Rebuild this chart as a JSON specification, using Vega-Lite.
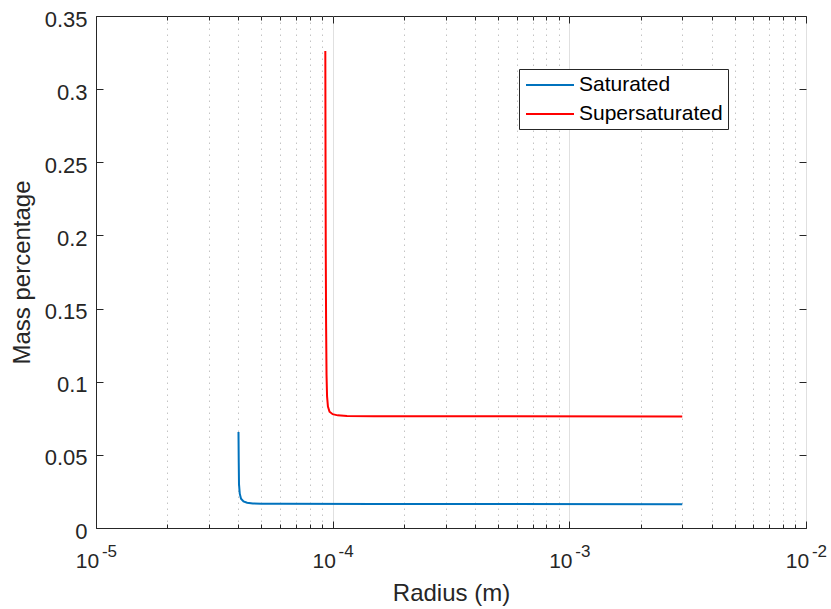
{
  "$schema": "https://vega.github.io/schema/vega-lite/v6.json",
  "width": 710,
  "height": 512,
  "autosize": {"type": "none"},
  "padding": {"left": 96, "top": 16, "right": 25, "bottom": 81},
  "background": "white",
  "config": {
    "font": "Liberation Sans",
    "view": {"stroke": "#262626", "strokeWidth": 1},
    "axis": {
      "labelFont": "Liberation Sans",
      "titleFont": "Liberation Sans",
      "labelColor": "#262626",
      "titleColor": "#262626",
      "titleFontWeight": "normal",
      "domainColor": "#262626",
      "tickColor": "#262626",
      "labelFlush": false,
      "labelOverlap": false
    }
  },
  "datasets": {
    "curves": [
      {"series": "Saturated", "r": 4.0e-5, "m": 0.0656},
      {"series": "Saturated", "r": 4.01e-5, "m": 0.045},
      {"series": "Saturated", "r": 4.02e-5, "m": 0.030},
      {"series": "Saturated", "r": 4.05e-5, "m": 0.0235},
      {"series": "Saturated", "r": 4.10e-5, "m": 0.0200},
      {"series": "Saturated", "r": 4.2e-5, "m": 0.0182},
      {"series": "Saturated", "r": 4.35e-5, "m": 0.0173},
      {"series": "Saturated", "r": 4.6e-5, "m": 0.0168},
      {"series": "Saturated", "r": 5.0e-5, "m": 0.0166},
      {"series": "Saturated", "r": 6.0e-5, "m": 0.0165},
      {"series": "Saturated", "r": 1.5e-4, "m": 0.0164},
      {"series": "Saturated", "r": 3.0e-3, "m": 0.0163},
      {"series": "Supersaturated", "r": 9.31e-5, "m": 0.326},
      {"series": "Supersaturated", "r": 9.33e-5, "m": 0.25},
      {"series": "Supersaturated", "r": 9.35e-5, "m": 0.19},
      {"series": "Supersaturated", "r": 9.38e-5, "m": 0.14},
      {"series": "Supersaturated", "r": 9.42e-5, "m": 0.105},
      {"series": "Supersaturated", "r": 9.47e-5, "m": 0.090},
      {"series": "Supersaturated", "r": 9.55e-5, "m": 0.083},
      {"series": "Supersaturated", "r": 9.7e-5, "m": 0.0795},
      {"series": "Supersaturated", "r": 1.0e-4, "m": 0.0778},
      {"series": "Supersaturated", "r": 1.05e-4, "m": 0.0770},
      {"series": "Supersaturated", "r": 1.15e-4, "m": 0.0766},
      {"series": "Supersaturated", "r": 1.5e-4, "m": 0.0764},
      {"series": "Supersaturated", "r": 3.0e-3, "m": 0.0762}
    ]
  },
  "data": {"name": "curves"},
  "layer": [
    {
      "mark": {"type": "line", "strokeWidth": 2, "clip": true},
      "encoding": {
        "x": {
          "field": "r",
          "type": "quantitative",
          "scale": {"type": "log", "domain": [1e-5, 1e-2], "nice": false},
          "axis": {
            "orient": "bottom",
            "values": [1e-5, 2e-5, 3e-5, 4e-5, 5e-5, 6e-5, 7e-5, 8e-5, 9e-5, 1e-4, 2e-4, 3e-4, 4e-4, 5e-4, 6e-4, 7e-4, 8e-4, 9e-4, 1e-3, 2e-3, 3e-3, 4e-3, 5e-3, 6e-3, 7e-3, 8e-3, 9e-3, 1e-2],
            "labelExpr": "abs(log(datum.value)/LN10 - round(log(datum.value)/LN10)) < 0.001 ? '10' : ''",
            "labelFontSize": 21,
            "labelOffset": -9,
            "labelBaseline": "alphabetic",
            "labelPadding": 46,
            "grid": true,
            "gridColor": {"condition": {"test": "abs(log(datum.value)/LN10 - round(log(datum.value)/LN10)) < 0.001", "value": "#e0e0e0"}, "value": "#c4c4c4"},
            "gridDash": {"condition": {"test": "abs(log(datum.value)/LN10 - round(log(datum.value)/LN10)) < 0.001", "value": []}, "value": [1.5, 4.5]},
            "tickSize": {"condition": {"test": "abs(log(datum.value)/LN10 - round(log(datum.value)/LN10)) < 0.001", "value": -7}, "value": -4},
            "title": "Radius (m)",
            "titleFontSize": 24,
            "titlePadding": 7
          }
        },
        "y": {
          "field": "m",
          "type": "quantitative",
          "scale": {"domain": [0, 0.35], "nice": false},
          "axis": {
            "orient": "left",
            "values": [0, 0.05, 0.1, 0.15, 0.2, 0.25, 0.3, 0.35],
            "format": "~g",
            "labelFontSize": 22,
            "labelPadding": 16,
            "labelOffset": 3,
            "tickSize": -7,
            "grid": false,
            "title": "Mass percentage",
            "titleFontSize": 24,
            "titlePadding": 10
          }
        },
        "color": {
          "field": "series",
          "type": "nominal",
          "scale": {"domain": ["Saturated", "Supersaturated"], "range": ["#0072BD", "#FF0000"]},
          "legend": {
            "orient": "none",
            "legendX": 423,
            "legendY": 53,
            "title": null,
            "symbolType": "M-2.4,0H2.4",
            "symbolSize": 400,
            "symbolOffset": 15,
            "symbolStrokeWidth": 2,
            "labelFontSize": 21,
            "labelColor": "#000000",
            "labelFont": "Liberation Sans",
            "labelOffset": 18,
            "fillColor": "white",
            "strokeColor": "#262626",
            "padding": 5,
            "rowPadding": 8,
            "cornerRadius": 0
          }
        },
        "detail": {"field": "series"}
      }
    },
    {
      "mark": {"type": "line", "strokeOpacity": 0},
      "encoding": {
        "x": {
          "field": "r",
          "type": "quantitative",
          "axis": {
            "orient": "bottom",
            "values": [1e-5, 1e-4, 1e-3, 1e-2],
            "labelExpr": "'-' + toString(-round(log(datum.value)/LN10))",
            "labelFontSize": 17,
            "labelOffset": 13,
            "labelBaseline": "alphabetic",
            "labelPadding": 28,
            "ticks": false,
            "domain": false,
            "grid": false,
            "title": null
          }
        },
        "y": {
          "field": "m",
          "type": "quantitative",
          "axis": {
            "orient": "right",
            "values": [0, 0.05, 0.1, 0.15, 0.2, 0.25, 0.3, 0.35],
            "labels": false,
            "tickSize": -7,
            "domain": false,
            "grid": false,
            "title": null
          }
        },
        "detail": {"field": "series"}
      }
    },
    {
      "mark": {"type": "line", "strokeOpacity": 0},
      "encoding": {
        "x": {
          "field": "r",
          "type": "quantitative",
          "axis": {
            "orient": "top",
            "values": [1e-5, 2e-5, 3e-5, 4e-5, 5e-5, 6e-5, 7e-5, 8e-5, 9e-5, 1e-4, 2e-4, 3e-4, 4e-4, 5e-4, 6e-4, 7e-4, 8e-4, 9e-4, 1e-3, 2e-3, 3e-3, 4e-3, 5e-3, 6e-3, 7e-3, 8e-3, 9e-3, 1e-2],
            "labels": false,
            "tickSize": {"condition": {"test": "abs(log(datum.value)/LN10 - round(log(datum.value)/LN10)) < 0.001", "value": -7}, "value": -4},
            "domain": false,
            "grid": false,
            "title": null
          }
        },
        "y": {"field": "m", "type": "quantitative", "axis": null},
        "detail": {"field": "series"}
      }
    }
  ],
  "resolve": {"axis": {"x": "independent", "y": "independent"}}
}
